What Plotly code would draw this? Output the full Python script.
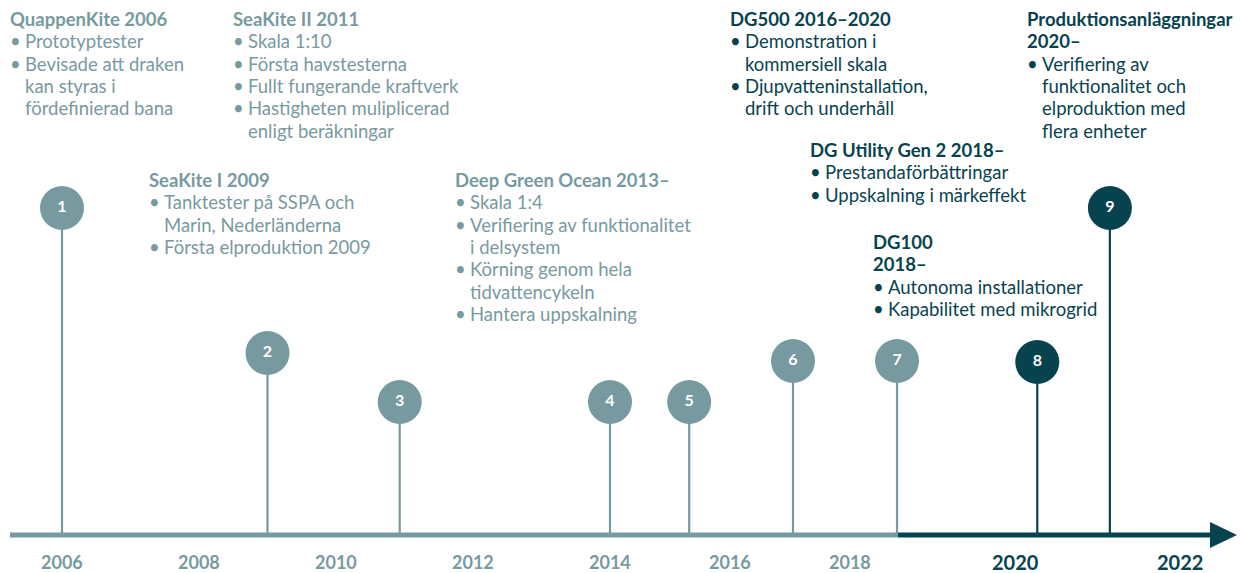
import numpy as np
import plotly.graph_objects as go

GRAY = "#779aa0"
DARK = "#07434f"
FONT = "Lato"

# Axis scale (tick years and their positions along the timeline)
tick_years = [2006, 2008, 2010, 2012, 2014, 2016, 2018, 2020, 2022]
tick_labels = ["2006", "2008", "2010", "2012", "2014", "2016", "2018", "2020", "2022"]
tick_pos = [62, 199, 336, 473, 610, 730, 850, 1015, 1180]
tick_dark = [False, False, False, False, False, False, False, True, True]

# Milestones
milestone_num = ["1", "2", "3", "4", "5", "6", "7", "8", "9"]
milestone_year = [2006.0, 2009.0, 2010.93, 2014.0, 2015.32, 2017.05, 2018.57, 2020.27, 2021.15]
milestone_height = [327, 182, 133, 133, 133, 174, 174, 173, 327]
milestone_dark = [False, False, False, False, False, False, False, True, True]

# Text blocks: title lines, bullets (each bullet a list of lines)
blocks = [
    dict(title=["QuappenKite 2006"], items=[["Prototyptester"], ["Bevisade att draken", "kan styras i", "fördefinierad bana"]], left=10, top=19, dark=False),
    dict(title=["SeaKite II 2011"], items=[["Skala 1:10"], ["Första havstesterna"], ["Fullt fungerande kraftverk"], ["Hastigheten muliplicerad", "enligt beräkningar"]], left=233, top=19, dark=False),
    dict(title=["SeaKite I 2009"], items=[["Tanktester på SSPA och", "Marin, Nederländerna"], ["Första elproduktion 2009"]], left=149, top=180, dark=False),
    dict(title=["Deep Green Ocean 2013–"], items=[["Skala 1:4"], ["Verifiering av funktionalitet", "i delsystem"], ["Körning genom hela", "tidvattencykeln"], ["Hantera uppskalning"]], left=455, top=180, dark=False),
    dict(title=["DG500 2016–2020"], items=[["Demonstration i", "kommersiell skala"], ["Djupvatteninstallation,", "drift och underhåll"]], left=730, top=19, dark=True),
    dict(title=["DG Utility Gen 2 2018–"], items=[["Prestandaförbättringar"], ["Uppskalning i märkeffekt"]], left=810, top=150, dark=True),
    dict(title=["DG100", "2018–"], items=[["Autonoma installationer"], ["Kapabilitet med mikrogrid"]], left=873, top=242, dark=True),
    dict(title=["Produktionsanläggningar", "2020–"], items=[["Verifiering av", "funktionalitet och", "elproduktion med", "flera enheter"]], left=1027, top=19, dark=True),
]

AXIS_Y = 535  # pixel row of the timeline
LINE_H = 22.3
BULLET_INDENT = 15
split_pos = 898
axis_start = 10
arrow_base = 1210
arrow_tip = 1237

mx = np.interp(milestone_year, tick_years, tick_pos)

fig = go.Figure()

# stems
for x, h, d in zip(mx, milestone_height, milestone_dark):
    fig.add_trace(go.Scatter(x=[x, x], y=[0, h], mode="lines",
                             line=dict(color=DARK if d else GRAY, width=2.2),
                             hoverinfo="skip", showlegend=False))

# timeline
fig.add_shape(type="line", x0=axis_start, x1=split_pos, y0=0, y1=0,
              line=dict(color=GRAY, width=5), layer="above")
fig.add_shape(type="line", x0=split_pos, x1=arrow_base + 2, y0=0, y1=0,
              line=dict(color=DARK, width=5), layer="above")
fig.add_shape(type="path",
              path=f"M {arrow_base},13 L {arrow_tip},0 L {arrow_base},-13 Z",
              fillcolor=DARK, line=dict(color=DARK, width=0), layer="above")

# circles
fig.add_trace(go.Scatter(
    x=mx, y=milestone_height, mode="markers+text",
    marker=dict(size=44, color=[DARK if d else GRAY for d in milestone_dark], line=dict(width=0)),
    text=[f"<b>{n}</b>" for n in milestone_num], textposition="middle center",
    textfont=dict(family=FONT, size=16, color="white"),
    hoverinfo="skip", showlegend=False))

# tick labels
for p, lab, d in zip(tick_pos, tick_labels, tick_dark):
    fig.add_annotation(x=p, y=AXIS_Y - 562, text=f"<b>{lab}</b>", showarrow=False,
                       xanchor="center", yanchor="middle",
                       font=dict(family=FONT, size=20 if d else 18, color=DARK if d else GRAY))

# text blocks
def add_line(x, ypix, text, color):
    fig.add_annotation(x=x, y=AXIS_Y - ypix, text=text, showarrow=False,
                       xanchor="left", yanchor="middle", align="left",
                       font=dict(family=FONT, size=18.5, color=color))

for b in blocks:
    color = DARK if b["dark"] else GRAY
    x0 = b["left"] - 2
    y = b["top"]
    for t in b["title"]:
        add_line(x0, y, f"<b>{t}</b>", color)
        y += LINE_H
    for item in b["items"]:
        add_line(x0, y, "•", color)
        for line in item:
            add_line(x0 + BULLET_INDENT, y, line, color)
            y += LINE_H

fig.update_layout(
    width=1240, height=573, margin=dict(l=0, r=0, t=0, b=0),
    paper_bgcolor="white", plot_bgcolor="white",
    xaxis=dict(range=[0, 1240], visible=False, fixedrange=True),
    yaxis=dict(range=[AXIS_Y - 573, AXIS_Y], visible=False, fixedrange=True),
    showlegend=False,
)
fig.write_html("out.html", config={"displayModeBar": False},
               post_script="document.body.style.margin='0px';document.body.style.overflow='hidden';")
